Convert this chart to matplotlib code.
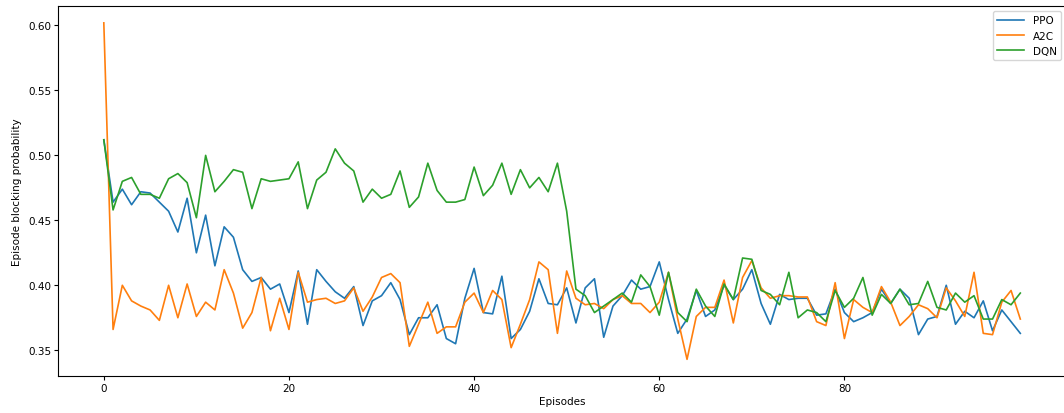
import numpy as np
import matplotlib
matplotlib.use('Agg')
import matplotlib.pyplot as plt

episodes = np.arange(100)

ppo = [0.512, 0.464, 0.474, 0.462, 0.472, 0.471, 0.464, 0.457, 0.441, 0.467,
       0.425, 0.454, 0.415, 0.445, 0.437, 0.412, 0.403, 0.406, 0.397, 0.401,
       0.379, 0.411, 0.370, 0.412, 0.403, 0.395, 0.390, 0.399, 0.369, 0.388,
       0.392, 0.402, 0.389, 0.362, 0.375, 0.375, 0.385, 0.359, 0.355, 0.390,
       0.413, 0.379, 0.378, 0.407, 0.359, 0.366, 0.380, 0.405, 0.386, 0.385,
       0.398, 0.371, 0.398, 0.405, 0.360, 0.384, 0.392, 0.404, 0.397, 0.399,
       0.418, 0.389, 0.363, 0.374, 0.396, 0.376, 0.381, 0.400, 0.389, 0.397,
       0.412, 0.386, 0.370, 0.393, 0.389, 0.390, 0.390, 0.377, 0.378, 0.397,
       0.379, 0.372, 0.375, 0.379, 0.397, 0.386, 0.397, 0.390, 0.362, 0.374,
       0.376, 0.400, 0.370, 0.380, 0.375, 0.388, 0.365, 0.381, 0.372, 0.363]

a2c = [0.602, 0.366, 0.400, 0.388, 0.384, 0.381, 0.373, 0.400, 0.375, 0.401,
       0.376, 0.387, 0.381, 0.412, 0.394, 0.367, 0.379, 0.406, 0.365, 0.390,
       0.366, 0.410, 0.387, 0.389, 0.390, 0.386, 0.388, 0.398, 0.380, 0.391,
       0.406, 0.409, 0.402, 0.353, 0.370, 0.387, 0.363, 0.368, 0.368, 0.387,
       0.394, 0.379, 0.396, 0.389, 0.352, 0.370, 0.389, 0.418, 0.412, 0.363,
       0.411, 0.390, 0.385, 0.386, 0.382, 0.389, 0.392, 0.386, 0.386, 0.379,
       0.387, 0.410, 0.374, 0.343, 0.376, 0.383, 0.383, 0.404, 0.371, 0.406,
       0.419, 0.398, 0.390, 0.392, 0.392, 0.391, 0.391, 0.372, 0.369, 0.402,
       0.359, 0.389, 0.383, 0.379, 0.399, 0.387, 0.369, 0.376, 0.385, 0.382,
       0.375, 0.398, 0.388, 0.376, 0.410, 0.363, 0.362, 0.387, 0.396, 0.374]

dqn = [0.512, 0.458, 0.480, 0.483, 0.470, 0.470, 0.467, 0.482, 0.486, 0.479,
       0.452, 0.500, 0.472, 0.480, 0.489, 0.487, 0.459, 0.482, 0.480, 0.481,
       0.482, 0.495, 0.459, 0.481, 0.487, 0.505, 0.494, 0.488, 0.464, 0.474,
       0.467, 0.470, 0.488, 0.460, 0.468, 0.494, 0.473, 0.464, 0.464, 0.466,
       0.491, 0.469, 0.477, 0.494, 0.470, 0.489, 0.475, 0.483, 0.472, 0.494,
       0.457, 0.397, 0.392, 0.379, 0.384, 0.389, 0.394, 0.387, 0.408, 0.399,
       0.377, 0.410, 0.379, 0.372, 0.397, 0.384, 0.376, 0.401, 0.389, 0.421,
       0.420, 0.396, 0.393, 0.385, 0.410, 0.375, 0.381, 0.379, 0.372, 0.396,
       0.383, 0.390, 0.406, 0.377, 0.393, 0.386, 0.397, 0.385, 0.386, 0.403,
       0.383, 0.381, 0.394, 0.387, 0.392, 0.374, 0.374, 0.389, 0.385, 0.394]

fig = plt.figure(figsize=(10.64, 4.14), dpi=100)
# axes runs a little past the right edge, like the cropped original
ax = fig.add_axes([0.0545, 0.089, 0.9475, 0.894])

ax.plot(episodes, ppo, label='PPO', linewidth=1.2)
ax.plot(episodes, a2c, label='A2C', linewidth=1.2)
ax.plot(episodes, dqn, label='DQN', linewidth=1.2)

ax.set_xlabel('Episodes', fontsize=7.5, labelpad=2)
ax.set_ylabel('Episode blocking probability', fontsize=7.5, labelpad=4)
ax.tick_params(labelsize=7.5, length=3, pad=2)
ax.set_xticks([0, 20, 40, 60, 80])
ax.legend(loc='upper right', fontsize=7.5, handlelength=2.6)

fig.savefig('out.png', dpi=100)
